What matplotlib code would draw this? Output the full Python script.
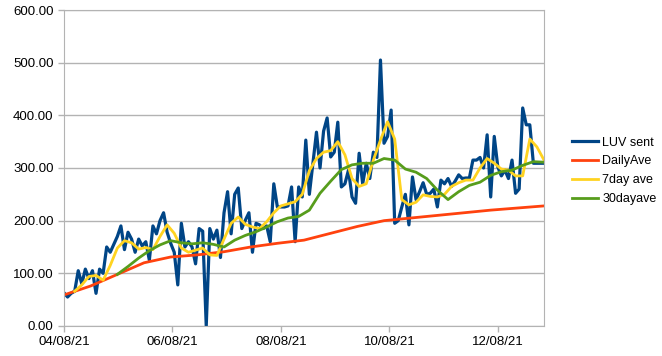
import matplotlib
matplotlib.use("Agg")
import matplotlib.pyplot as plt
import matplotlib.dates as mdates
import numpy as np
import pandas as pd

start = pd.Timestamp("2021-04-08")

# LUV sent, one reading every 2 days from 04/08/21
luv_sent = [63, 55, 62, 66, 105, 80, 108, 90, 105, 62,
            108, 100, 150, 140, 155, 170, 190, 145, 178, 165,
            140, 165, 152, 160, 125, 190, 175, 200, 215, 178,
            157, 140, 78, 195, 150, 160, 150, 118, 185, 180,
            0, 185, 165, 182, 130, 215, 255, 175, 250, 262,
            185, 201, 215, 140, 195, 192, 185, 190, 160, 270,
            226, 226, 226, 228, 264, 160, 264, 245, 353, 250,
            309, 368, 300, 370, 395, 321, 330, 387, 264, 270,
            296, 245, 233, 328, 270, 309, 280, 330, 320, 505,
            347, 360, 410, 195, 200, 226, 250, 192, 283, 240,
            255, 272, 250, 252, 260, 226, 277, 270, 280, 265,
            275, 287, 280, 281, 281, 315, 315, 320, 300, 363,
            245, 360, 302, 285, 296, 280, 315, 252, 260, 414,
            382, 382, 309, 309, 309, 309]

# DailyAve, every 15 days
daily_ave = [59, 76, 98, 120, 131, 135, 141, 150, 157, 163,
             176, 189, 200, 205, 210, 215, 220, 224, 228]

# 7day ave, every 4 days from day 6
ave7 = [66, 78, 94, 96, 87, 115, 148, 162, 158, 146,
        149, 145, 170, 192, 176, 148, 140, 144, 148, 135,
        134, 165, 195, 207, 193, 188, 185, 198, 215, 228,
        232, 236, 250, 295, 318, 330, 333, 350, 325, 280,
        265, 270, 315, 353, 388, 355, 240, 230, 235, 249,
        246, 245, 250, 265, 272, 277, 277, 300, 318, 309,
        298, 296, 285, 285, 355, 340, 315]

# 30dayave, every 6 days from day 30
ave30 = [98, 113, 129, 143, 154, 162, 158, 156, 158, 155,
         150, 163, 172, 179, 188, 198, 205, 208, 220, 252,
         275, 297, 306, 309, 309, 318, 315, 298, 292, 280,
         258, 240, 255, 267, 273, 286, 293, 296, 305, 312, 311]

d_luv = start + pd.to_timedelta(np.arange(len(luv_sent)) * 2, unit="D")
d_daily = start + pd.to_timedelta(np.arange(len(daily_ave)) * 15, unit="D")
d_7 = start + pd.to_timedelta(6 + np.arange(len(ave7)) * 4, unit="D")
d_30 = start + pd.to_timedelta(30 + np.arange(len(ave30)) * 6, unit="D")

tick_dates = pd.to_datetime(["2021-04-08", "2021-06-08", "2021-08-08",
                             "2021-10-08", "2021-12-08"])

plt.rcParams["font.family"] = ["Liberation Sans", "DejaVu Sans"]
plt.rcParams["font.size"] = 9.5

fig = plt.figure(figsize=(6.62, 3.56), dpi=100)
ax = fig.add_axes([0.0967, 0.0843, 0.7251, 0.8876])

ax.plot(d_luv, luv_sent, color="#004586", lw=2.3, label="LUV sent")
ax.plot(d_daily, daily_ave, color="#ff420e", lw=2.0, label="DailyAve")
ax.plot(d_7, ave7, color="#ffd320", lw=2.0, label="7day ave")
ax.plot(d_30, ave30, color="#579d1c", lw=2.0, label="30dayave")

ax.set_ylim(0, 600)
ax.set_yticks(np.arange(0, 601, 100))
ax.yaxis.set_major_formatter(plt.FormatStrFormatter("%.2f"))
ax.set_xlim(start, start + pd.Timedelta(days=270))
ax.set_xticks(tick_dates)
ax.xaxis.set_major_formatter(mdates.DateFormatter("%m/%d/%y"))

ax.grid(axis="y", color="#b3b3b3", lw=1)
ax.set_axisbelow(True)
for s in ax.spines.values():
    s.set_color("#b3b3b3")
ax.tick_params(colors="#b3b3b3", labelcolor="black", length=4, width=1)

fig.legend(loc="center left", bbox_to_anchor=(0.851, 0.52), frameon=False,
           fontsize=9, handlelength=2.1, handletextpad=0.3, labelspacing=0.55,
           borderaxespad=0.3)

fig.savefig("out.png", dpi=100)
